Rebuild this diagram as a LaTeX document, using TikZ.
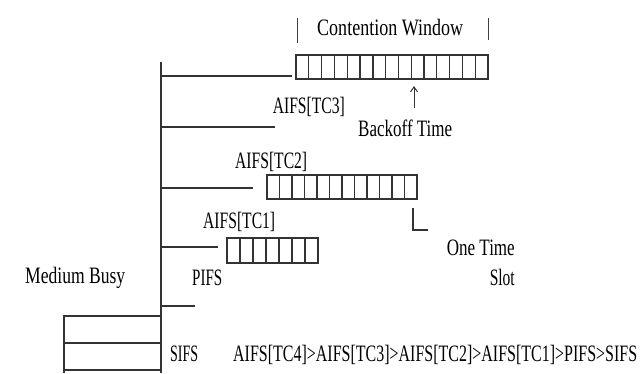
\documentclass[tikz,border=0pt]{standalone}
\usepackage{fontspec}
\setmainfont{Liberation Serif}
\usepackage{graphicx}
\usetikzlibrary{arrows.meta}
\newcommand{\fw}[2]{\resizebox{#1pt}{\height}{#2}}
\begin{document}
\begin{tikzpicture}[x=1pt,y=-1pt,
  ln/.style={line width=1.4pt,draw=black!80},
  cell/.style={line width=1.1pt,draw=black!80},
  lbl/.style={inner sep=0pt,font=\fontsize{23.5}{26}\selectfont,text=black}]
\useasboundingbox (0,0) rectangle (641,373);
% main vertical
\draw[ln] (161,62) -- (161,373);
% horizontal steps
\draw[ln] (161,76) -- (292,76);
\draw[ln] (161,127) -- (275,127);
\draw[ln] (161,188) -- (253,188);
\draw[ln] (161,247) -- (218,247);
\draw[ln] (161,306) -- (195,306);
% medium busy box
\draw[ln] (161,316) -- (64,316) -- (64,373);
\draw[ln] (64,343) -- (161,343);
\draw[ln] (64,370) -- (161,370);
% contention window box
\draw[ln] (296,55) rectangle (488,79);
\foreach \i in {1,...,14}{
  \pgfmathtruncatemacro{\m}{mod(\i,3)}
  \ifnum\m=0 \draw[ln] (296+\i*12.8,55) -- (296+\i*12.8,79);
  \else \draw[cell] (296+\i*12.8,55) -- (296+\i*12.8,79); \fi}
\draw[line width=1pt,draw=black!75] (297,18) -- (297,43);
\draw[line width=1pt,draw=black!75] (488,18) -- (488,40);
% TC2 box
\draw[ln] (267,175) rectangle (417,199);
\foreach \i in {1,...,11}{\draw[cell] (267+\i*12.5,175) -- (267+\i*12.5,199);}
% TC1 box
\draw[ln] (227,238) rectangle (318,263);
\foreach \i in {1,...,6}{\draw[cell] (227+\i*13,238) -- (227+\i*13,263);}
% backoff arrow
\coordinate (arrA) at (414,108);
\coordinate (arrB) at (414,86);
\draw[line width=1pt,draw=black!80,-{Straight Barb[length=5pt,width=7pt]}] (arrA) -- (arrB);
% one-slot L
\draw[ln] (413,208) -- (413,230) -- (428,230);
% labels
\node[lbl,anchor=base west] (cw) at (317,35) {\fw{146}{Contention Window}};
\node[lbl,anchor=base east] (tc3) at (345,113) {\fw{72}{AIFS[TC3]}};
\node[lbl,anchor=base west] (bt) at (358,136) {\fw{94}{Backoff Time}};
\node[lbl,anchor=base west] (tc2) at (235,168) {\fw{72}{AIFS[TC2]}};
\node[lbl,anchor=base west] (tc1) at (203,228) {\fw{72}{AIFS[TC1]}};
\node[lbl,anchor=base west] (pifs) at (192,285) {\fw{30}{PIFS}};
\node[lbl,anchor=base east] (one) at (515,255) {\fw{68}{One Time}};
\node[lbl,anchor=base east] (slot) at (515,285) {\fw{25}{Slot}};
\node[lbl,anchor=base west] (mb) at (25,283) {\fw{100}{Medium Busy}};
\node[lbl,anchor=base west] (sifs) at (170,361) {\fw{28}{SIFS}};
\node[lbl,anchor=base west] (order) at (233,361) {\fw{404}{AIFS[TC4]>AIFS[TC3]>AIFS[TC2]>AIFS[TC1]>PIFS>SIFS}};
\end{tikzpicture}
\end{document}
